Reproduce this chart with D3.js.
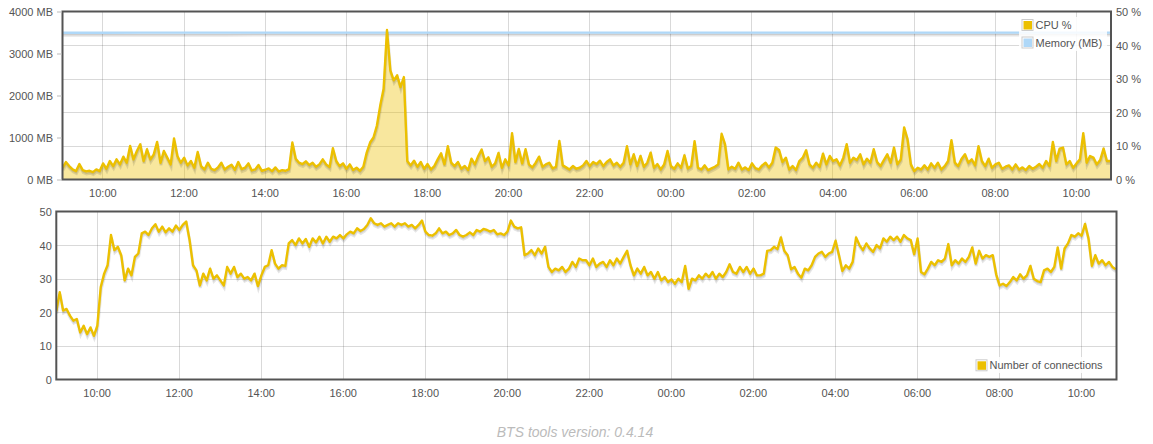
<!DOCTYPE html>
<html><head><meta charset="utf-8">
<script src="https://cdn.jsdelivr.net/npm/d3@7"></script>
<style>
body{margin:0;background:#fff;}
svg{display:block;font-family:"Liberation Sans",Arial,Helvetica,sans-serif;}
</style>
</head><body>
<svg id="c" width="1153" height="444"></svg>
<script>
// ---------- data ----------
const startTime = new Date(2015, 2, 10, 9, 1);
const endTime = new Date(2015, 2, 11, 10, 52);
const stepMinutes = 5;

const cpuPercent = [
3.5,5.2,4.0,3.0,2.5,4.6,2.8,2.4,2.6,2.2,
3.0,2.5,4.8,3.2,5.5,4.0,6.0,4.5,6.8,5.0,
10.0,6.0,8.5,10.5,5.5,9.0,6.0,7.5,11.2,5.0,
8.5,6.5,4.5,12.2,7.0,5.0,6.5,4.2,5.5,3.5,
8.2,4.0,3.0,5.0,3.2,2.8,3.6,5.0,3.0,3.8,
4.4,2.9,5.2,3.1,3.5,4.8,2.7,3.0,4.3,2.6,
2.9,3.3,2.5,3.6,2.4,2.8,2.6,3.1,11.0,6.2,
5.0,4.6,5.4,4.3,5.0,3.8,4.5,6.0,4.5,3.7,
9.3,5.5,4.0,4.8,3.2,4.5,2.8,3.5,2.6,3.8,
8.0,11.0,12.5,16.0,22.0,27.0,44.5,32.5,29.5,31.0,
27.5,30.5,5.5,4.2,5.6,3.8,5.2,3.2,4.6,3.0,
4.0,6.0,7.8,4.5,9.9,5.0,4.0,5.2,3.2,4.0,
2.8,6.2,4.5,7.0,8.9,5.5,6.6,3.8,4.8,7.9,
3.5,6.0,4.2,13.8,5.2,9.1,4.8,9.0,4.5,3.6,
5.0,6.8,3.8,4.5,5.0,3.3,3.8,11.5,4.2,3.6,
3.0,4.0,3.2,3.5,4.2,5.5,4.0,5.2,4.6,5.6,
4.0,5.2,6.0,4.2,5.0,3.8,5.0,9.9,4.5,7.5,
4.0,7.0,3.8,5.0,8.0,3.5,4.6,3.0,4.5,8.5,
4.0,3.2,4.8,3.5,7.2,3.3,4.0,11.4,3.5,3.0,
4.2,2.8,3.3,3.8,4.5,13.6,10.5,3.0,3.8,3.2,
5.0,3.0,3.6,2.8,4.8,3.4,3.0,4.2,5.0,3.6,
5.0,9.5,8.8,5.2,6.5,3.0,4.0,2.8,5.5,6.5,
8.7,4.5,3.5,5.0,3.8,7.7,4.5,7.0,5.5,6.0,
4.2,6.5,10.5,5.0,6.5,5.8,7.5,4.5,6.2,5.0,
9.0,5.2,4.0,5.8,7.5,5.0,9.5,4.5,6.0,15.5,
12.0,4.5,2.5,3.5,3.0,4.2,3.0,4.8,3.5,5.0,
3.0,4.0,5.5,11.7,5.0,4.0,6.2,7.5,5.0,6.0,
4.2,9.9,5.5,4.0,6.2,3.5,4.5,5.0,3.2,3.8,
4.2,3.0,4.5,3.0,3.6,2.8,4.0,3.2,3.8,4.6,
3.5,5.5,4.0,11.2,5.5,9.2,9.5,4.5,5.5,3.5,
4.8,6.0,13.8,5.0,7.0,6.5,4.5,5.8,9.2,5.5,
5.5
];

const memoryStepMinutes = 60;
const memoryMB = [
3495,3495,3496,3496,3496,3497,3497,3497,3497,3498,
3498,3498,3498,3498,3498,3498,3498,3498,3498,3498,
3498,3498,3498,3498,3498,3498,3498
];

const connections = [
20.3,26.0,20.5,21.0,19.0,17.5,18.0,14.0,16.0,13.5,
15.5,13.0,16.0,27.5,31.5,34.0,43.0,38.5,39.5,37.0,
29.5,33.0,31.0,36.5,37.5,43.5,44.0,43.0,45.0,46.2,
44.0,45.5,43.8,45.0,44.0,45.8,44.5,46.0,47.0,41.5,
34.0,32.5,28.0,31.5,29.5,33.0,30.0,31.0,29.5,28.0,
33.5,31.5,33.5,30.5,31.5,30.0,30.5,29.5,31.5,27.8,
31.0,33.5,34.0,38.5,34.5,33.0,34.0,33.8,40.5,41.5,
40.0,42.0,40.5,41.8,39.5,42.0,40.8,42.5,40.5,42.5,
41.0,42.5,42.0,43.0,42.0,43.2,44.0,43.5,45.0,44.2,
44.8,46.0,48.0,46.5,46.0,46.5,45.5,46.0,46.5,45.5,
46.5,46.0,46.5,45.5,46.0,45.0,46.0,47.3,44.0,43.0,
42.8,43.5,45.0,43.5,44.0,43.0,43.5,44.5,43.0,42.5,
43.0,43.8,43.0,44.5,44.0,44.8,44.5,44.0,44.5,43.2,
43.5,43.0,44.0,47.3,45.5,45.0,45.3,37.0,37.5,38.5,
37.0,39.0,37.5,39.5,33.5,32.0,33.0,32.5,33.5,32.0,
33.0,35.0,33.5,36.0,35.5,35.5,34.0,36.0,33.5,34.5,
35.0,33.5,35.5,34.0,36.0,34.5,36.5,38.3,34.0,31.0,
33.0,31.5,33.5,31.0,32.0,30.0,32.0,29.5,30.5,29.0,
29.8,28.5,30.0,29.0,33.8,27.0,30.0,29.5,31.0,30.0,
31.5,30.5,32.0,30.0,31.5,30.5,32.0,34.3,32.0,31.5,
33.5,32.0,33.5,31.5,33.0,31.0,31.0,31.5,38.3,38.5,
39.5,38.8,42.3,38.3,37.0,32.8,33.5,31.5,30.3,33.0,
32.5,34.0,36.5,37.5,38.0,36.5,37.5,38.0,41.3,37.0,
32.3,34.0,33.0,35.0,42.3,40.0,38.5,40.5,39.0,38.0,
40.0,39.0,42.0,41.0,42.5,41.5,42.5,41.0,43.0,42.0,
41.5,37.3,42.0,32.0,31.3,33.0,35.0,34.0,35.5,35.0,
36.0,40.3,34.0,35.5,34.5,36.0,35.0,36.5,39.3,34.5,
38.3,36.0,37.0,36.5,37.0,31.3,28.0,28.5,27.8,29.0,
30.5,29.5,31.3,30.0,31.0,33.8,30.0,29.3,29.0,32.5,
33.0,32.0,33.5,39.3,33.0,39.0,40.5,43.0,42.5,43.5,
42.8,46.3,42.0,33.8,37.0,34.5,35.5,34.0,35.0,33.5,
32.8
];

const memoryTicks = [0, 1000, 2000, 3000, 4000];
const cpuTicks = [0, 10, 20, 30, 40, 50];
const connTicks = [0, 10, 20, 30, 40, 50];
const cpuLabel = "CPU %";
const memLabel = "Memory (MB)";
const connLabel = "Number of connections";
const footerText = "BTS tools version: 0.4.14";

// ---------- drawing ----------
const svg = d3.select("#c");
const GOLD = "#ecc000", BLUE = "#afd8f8", AXIS = "#545454";
const GRID = "rgba(84,84,84,0.22)";
const FONT = "11px";
const LW = 2.4;

const tAt = (i, step) => d3.timeMinute.offset(startTime, i * step);

function drawShadowedLine(g, lineGen, data, color) {
  const a = Math.PI / 18;
  const o1 = 2.5, o2 = 1.75;
  g.append("path").datum(data).attr("d", lineGen).attr("fill", "none")
    .attr("stroke", "rgba(0,0,0,0.1)").attr("stroke-width", 3)
    .attr("transform", `translate(${Math.sin(a)*o1},${Math.cos(a)*o1})`);
  g.append("path").datum(data).attr("d", lineGen).attr("fill", "none")
    .attr("stroke", "rgba(0,0,0,0.1)").attr("stroke-width", 1.5)
    .attr("transform", `translate(${Math.sin(a)*o2},${Math.cos(a)*o2})`);
  g.append("path").datum(data).attr("d", lineGen).attr("fill", "none")
    .attr("stroke", color).attr("stroke-width", LW).attr("stroke-linejoin", "round");
}

function legendItem(g, x, y, color, label) {
  g.append("rect").attr("x", x + 0.5).attr("y", y + 0.5).attr("width", 11).attr("height", 11)
    .attr("fill", "none").attr("stroke", "#ccc").attr("stroke-width", 1);
  g.append("rect").attr("x", x + 2).attr("y", y + 2).attr("width", 8.5).attr("height", 8.5)
    .attr("fill", color);
  g.append("text").attr("x", x + 14).attr("y", y + 10).attr("font-size", FONT)
    .attr("fill", AXIS).text(label);
}

// ===== Top chart =====
{
  const L = 62.5, R = 1111, T = 11.5, B = 179.5;
  const x = d3.scaleTime().domain([startTime, endTime]).range([L, R]);
  const yMem = d3.scaleLinear().domain([0, 4000]).range([B, T]);
  const yCpu = d3.scaleLinear().domain([0, 50]).range([B, T]);
  const g = svg.append("g");

  svg.append("clipPath").attr("id", "clipTop").append("rect")
    .attr("x", L).attr("y", T - 3).attr("width", R - L).attr("height", B - T + 3);

  const xt = x.ticks(d3.timeHour.every(2));
  g.selectAll(".vg").data(xt).join("line")
    .attr("x1", d => Math.round(x(d)) + 0.5).attr("x2", d => Math.round(x(d)) + 0.5)
    .attr("y1", T).attr("y2", B).attr("stroke", GRID);
  g.selectAll(".hg").data(cpuTicks.slice(1, -1)).join("line")
    .attr("x1", L).attr("x2", R)
    .attr("y1", d => Math.round(yCpu(d)) + 0.5).attr("y2", d => Math.round(yCpu(d)) + 0.5)
    .attr("stroke", GRID);

  const gs = g.append("g").attr("clip-path", "url(#clipTop)");
  const memData = memoryMB.map((v, i) => ({t: tAt(i, memoryStepMinutes), v}));
  const memLine = d3.line().x(d => x(d.t)).y(d => yMem(d.v));
  drawShadowedLine(gs, memLine, memData, BLUE);
  const cpuData = cpuPercent.map((v, i) => ({t: tAt(i, stepMinutes), v}));
  const cpuArea = d3.area().x(d => x(d.t)).y0(B).y1(d => yCpu(d.v));
  gs.append("path").datum(cpuData).attr("d", cpuArea).attr("fill", GOLD).attr("fill-opacity", 0.38);
  const cpuLine = d3.line().x(d => x(d.t)).y(d => yCpu(d.v));
  drawShadowedLine(gs, cpuLine, cpuData, GOLD);

  g.append("rect").attr("x", L).attr("y", T).attr("width", R - L).attr("height", B - T)
    .attr("fill", "none").attr("stroke", AXIS).attr("stroke-width", 2);

  const xAxis = d3.axisBottom(x).tickValues(xt).tickFormat(d3.timeFormat("%H:%M")).tickSize(0).tickPadding(0);
  const ax = g.append("g").attr("transform", `translate(0,${B})`).call(xAxis);
  ax.select(".domain").remove();
  ax.selectAll("text").attr("dy", null).attr("y", 17.3).attr("font-size", FONT)
    .attr("font-family", null).attr("fill", AXIS);

  const yl = d3.axisLeft(yMem).tickValues(memoryTicks).tickFormat(d => d + " MB").tickSize(5).tickPadding(4);
  const ayl = g.append("g").attr("transform", `translate(${L - 0.5},0)`).call(yl);
  ayl.select(".domain").remove();
  ayl.selectAll("line").attr("stroke", "#bbb");
  ayl.selectAll("text").attr("dy", "0.36em").attr("font-size", FONT).attr("font-family", null).attr("fill", AXIS);

  const yr = d3.axisRight(yCpu).tickValues(cpuTicks).tickFormat(d => d + " %").tickSize(0).tickPadding(5);
  const ayr = g.append("g").attr("transform", `translate(${R},0)`).call(yr);
  ayr.select(".domain").remove();
  ayr.selectAll("text").attr("dy", "0.36em").attr("font-size", FONT).attr("font-family", null).attr("fill", AXIS);

  const lg = g.append("g");
  lg.append("rect").attr("x", 1019).attr("y", 17).attr("width", 88).attr("height", 34)
    .attr("fill", "#fff").attr("fill-opacity", 0.85);
  legendItem(lg, 1021.5, 19, GOLD, cpuLabel);
  legendItem(lg, 1021.5, 36.5, BLUE, memLabel);
}

// ===== Bottom chart =====
{
  const L = 56.3, R = 1116.5, T = 211.5, B = 379.5;
  const x = d3.scaleTime().domain([startTime, endTime]).range([L, R]);
  const y = d3.scaleLinear().domain([0, 50]).range([B, T]);
  const g = svg.append("g");
  svg.append("clipPath").attr("id", "clipBot").append("rect")
    .attr("x", L).attr("y", T - 3).attr("width", R - L).attr("height", B - T + 3);

  const xt = x.ticks(d3.timeHour.every(2));
  g.selectAll(".vg").data(xt).join("line")
    .attr("x1", d => Math.round(x(d)) + 0.5).attr("x2", d => Math.round(x(d)) + 0.5)
    .attr("y1", T).attr("y2", B).attr("stroke", GRID);
  g.selectAll(".hg").data(connTicks.slice(1, -1)).join("line")
    .attr("x1", L).attr("x2", R)
    .attr("y1", d => Math.round(y(d)) + 0.5).attr("y2", d => Math.round(y(d)) + 0.5)
    .attr("stroke", GRID);

  const gs = g.append("g").attr("clip-path", "url(#clipBot)");
  const cData = connections.map((v, i) => ({t: tAt(i, stepMinutes), v}));
  const cLine = d3.line().x(d => x(d.t)).y(d => y(d.v));
  drawShadowedLine(gs, cLine, cData, GOLD);

  g.append("rect").attr("x", L).attr("y", T).attr("width", R - L).attr("height", B - T)
    .attr("fill", "none").attr("stroke", AXIS).attr("stroke-width", 2);

  const xAxis = d3.axisBottom(x).tickValues(xt).tickFormat(d3.timeFormat("%H:%M")).tickSize(0).tickPadding(0);
  const ax = g.append("g").attr("transform", `translate(0,${B})`).call(xAxis);
  ax.select(".domain").remove();
  ax.selectAll("text").attr("dy", null).attr("y", 17.3).attr("font-size", FONT)
    .attr("font-family", null).attr("fill", AXIS);

  const yl = d3.axisLeft(y).tickValues(connTicks).tickSize(0).tickPadding(4);
  const ayl = g.append("g").attr("transform", `translate(${L - 0.5},0)`).call(yl);
  ayl.select(".domain").remove();
  ayl.selectAll("text").attr("dy", "0.36em").attr("font-size", FONT).attr("font-family", null).attr("fill", AXIS);

  const lg = g.append("g");
  lg.append("rect").attr("x", 973.5).attr("y", 357).attr("width", 140).attr("height", 16)
    .attr("fill", "#fff").attr("fill-opacity", 0.85);
  legendItem(lg, 975.5, 359.3, GOLD, connLabel);
}

svg.append("text").attr("x", 575).attr("y", 436.5).attr("text-anchor", "middle")
  .attr("font-size", "14px").attr("font-style", "italic").attr("fill", "#bbb")
  .text(footerText);
</script>
</body></html>
